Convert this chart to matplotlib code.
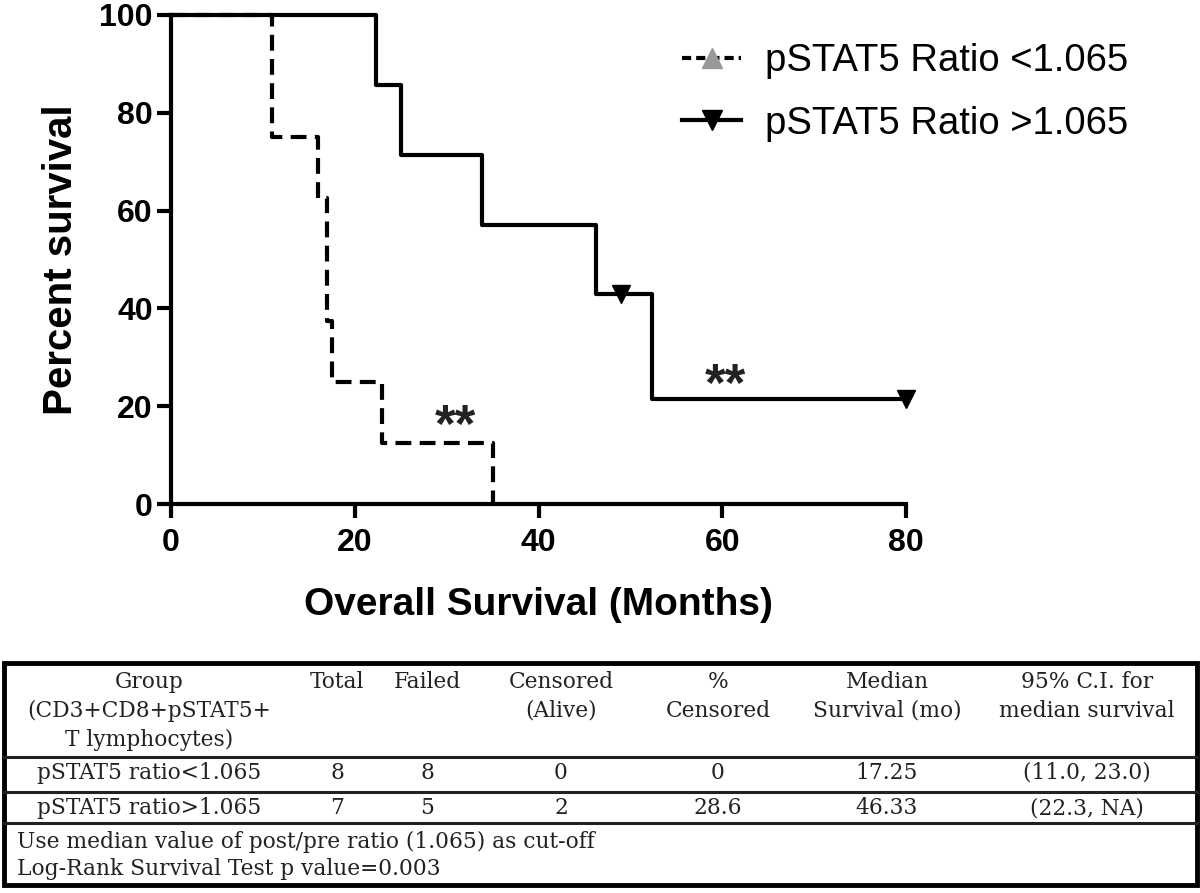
import numpy as np
import matplotlib
matplotlib.use("Agg")
import matplotlib.pyplot as plt
from matplotlib.lines import Line2D
from matplotlib.patches import Rectangle

# Kaplan-Meier steps (months, percent survival)
low_times = [0, 11.0, 16.0, 17.0, 17.5, 23.0, 35.0]
low_surv = [100, 75.0, 62.5, 37.5, 25.0, 12.5, 0.0]

high_times = [0, 22.3, 25.0, 33.8, 46.3, 52.3, 80.0]
high_surv = [100, 85.7, 71.4, 57.1, 42.9, 21.4, 21.4]
high_cens_t = [49.0, 80.0]
high_cens_s = [42.9, 21.4]

legend_labels = ["pSTAT5 Ratio <1.065", "pSTAT5 Ratio >1.065"]

# Summary table
header = ["Group\n(CD3+CD8+pSTAT5+\nT lymphocytes)", "Total", "Failed",
          "Censored\n(Alive)", "%\nCensored", "Median\nSurvival (mo)",
          "95% C.I. for\nmedian survival"]
row_low = ["pSTAT5 ratio<1.065", "8", "8", "0", "0", "17.25", "(11.0, 23.0)"]
row_high = ["pSTAT5 ratio>1.065", "7", "5", "2", "28.6", "46.33", "(22.3, NA)"]
footer = ["Use median value of post/pre ratio (1.065) as cut-off",
          "Log-Rank Survival Test p value=0.003"]

W, H = 1200, 893
fig = plt.figure(figsize=(W / 100, H / 100), dpi=100)
plt.rcParams['font.family'] = ['Liberation Sans', 'DejaVu Sans']

# ---- survival plot ----
ax = fig.add_axes([171 / W, 1 - 504 / H, (906 - 171) / W, (504 - 15) / H])
ax.step(low_times, low_surv, where='post', color='black', lw=3,
        linestyle=(0, (3.8, 2.0)), clip_on=False, zorder=3)
ax.step(high_times, high_surv, where='post', color='black', lw=3,
        clip_on=False, zorder=3)
ax.plot(high_cens_t, high_cens_s, linestyle='none', marker='v', color='black',
        markersize=13, clip_on=False, zorder=4)

ax.text(31, 12.6, "**", fontsize=38, fontweight='bold', ha='center', va='baseline', color='#222222')
ax.text(60.3, 21.0, "**", fontsize=38, fontweight='bold', ha='center', va='baseline', color='#222222')

ax.set_xlim(0, 80)
ax.set_ylim(0, 100)
ax.set_xticks([0, 20, 40, 60, 80])
ax.set_yticks([0, 20, 40, 60, 80, 100])
for s in ['top', 'right']:
    ax.spines[s].set_visible(False)
for s in ['left', 'bottom']:
    ax.spines[s].set_linewidth(3)
ax.tick_params(direction='out', length=10, width=3, labelsize=23)
ax.tick_params(axis='x', pad=7)
ax.tick_params(axis='y', pad=3)
for lab in ax.get_xticklabels() + ax.get_yticklabels():
    lab.set_fontweight('bold')
ax.set_xlabel("Overall Survival (Months)", fontsize=28, fontweight='bold', labelpad=21)
ax.set_ylabel("Percent survival", fontsize=29, fontweight='bold', labelpad=14)

handles = [
    Line2D([], [], color='black', lw=3, linestyle=(0, (2.2, 1.2)), marker='^',
           markerfacecolor='#999999', markeredgecolor='#999999', markersize=15),
    Line2D([], [], color='black', lw=3, marker='v', markersize=15),
]
fig.legend(handles, legend_labels, loc='upper left',
           bbox_to_anchor=(663 / W, 1 - 24 / H), frameon=False, fontsize=27.5,
           handlelength=1.55, handletextpad=0.62, labelspacing=0.7, borderpad=0)

# ---- table ----
tx = fig.add_axes([0, 0, 1, 1], zorder=-1)
tx.set_xlim(0, W)
tx.set_ylim(H, 0)
tx.axis('off')
tx.add_patch(Rectangle((4, 663), W - 7, 222, fill=False, lw=3.5, edgecolor='black'))
for yl in [757, 792, 823]:
    tx.plot([4, W - 3], [yl, yl], color='#222222', lw=2.2)

col_x = [149, 337, 427, 561, 718, 887, 1087]
tfont = dict(family='DejaVu Serif', fontsize=15.7, color='#222222')
for x, txt in zip(col_x, header):
    lines = txt.split("\n")
    for i, ln in enumerate(lines):
        tx.text(x, 682 + 29 * i, ln, ha='center', va='center', **tfont)
for x, txt in zip(col_x, row_low):
    tx.text(x, 773, txt, ha='center', va='center', **tfont)
for x, txt in zip(col_x, row_high):
    tx.text(x, 808, txt, ha='center', va='center', **tfont)
tx.text(17, 842, footer[0], ha='left', va='center', **tfont)
tx.text(17, 869, footer[1], ha='left', va='center', **tfont)

fig.savefig("out.png", dpi=100)
